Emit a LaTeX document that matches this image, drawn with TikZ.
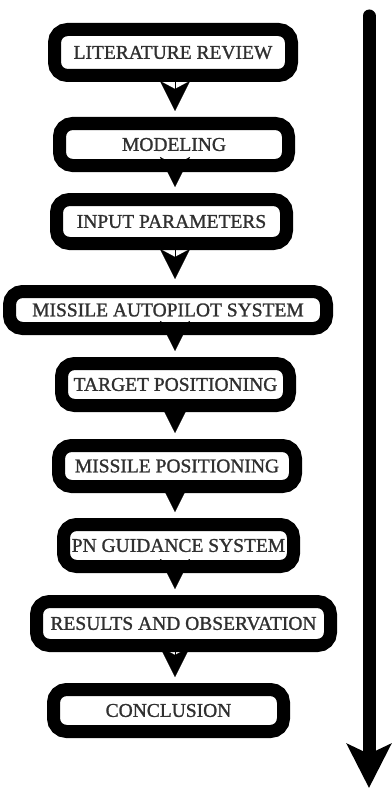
\documentclass[tikz,border=0pt]{standalone}
\usepackage{fontspec}
\setmainfont{Liberation Serif}
\newfontfamily\boxfont{Liberation Serif}[FakeBold=1.2]
\usetikzlibrary{arrows.meta}
\definecolor{txtgray}{HTML}{303030}
\tikzset{
  stepbox/.style={draw, line width=13pt, rounded corners=13pt, fill=white,
    text=txtgray, inner sep=0pt, font=\boxfont\fontsize{19.5}{22}\selectfont},
  flow/.style={line width=0.1pt, -{Stealth[length=30pt,width=30pt,inset=8pt]}, shorten >=6pt},
}
\begin{document}
\begin{tikzpicture}[x=1pt,y=-1pt]
  \useasboundingbox (0,0) rectangle (391,789);
  % Kaesten
  \node[stepbox, minimum width=237pt, minimum height=46pt] (lit) at (173,52.5) {LITERATURE REVIEW};
  \node[stepbox, minimum width=229pt, minimum height=42pt] (mod) at (174,144.5) {MODELING};
  \node[stepbox, minimum width=230pt, minimum height=44pt] (inp) at (171.5,221.5) {INPUT PARAMETERS};
  \node[stepbox, minimum width=317pt, minimum height=37pt] (auto) at (168,310) {MISSILE AUTOPILOT SYSTEM};
  \node[stepbox, minimum width=228pt, minimum height=42pt] (tgt) at (175.5,384.5) {TARGET POSITIONING};
  \node[stepbox, minimum width=237pt, minimum height=41pt] (mpos) at (177,466) {MISSILE POSITIONING};
  \node[stepbox, minimum width=230pt, minimum height=42pt] (pn) at (178.5,545.5) {PN GUIDANCE SYSTEM};
  \node[stepbox, minimum width=294pt, minimum height=44pt] (res) at (183.5,623.5) {RESULTS AND OBSERVATION};
  \node[stepbox, minimum width=230pt, minimum height=42pt] (conc) at (168.5,710.5) {CONCLUSION};
  % Pfeile
  \coordinate (spine) at (175,0);
  \draw[flow] (lit.south -| spine) -- (mod.north -| spine);
  \draw[flow] (mod.south -| spine) -- (inp.north -| spine);
  \draw[flow] (inp.south -| spine) -- (auto.north -| spine);
  \draw[flow] (auto.south -| spine) -- (tgt.north -| spine);
  \draw[flow] (tgt.south -| spine) -- (mpos.north -| spine);
  \draw[flow] (mpos.south -| spine) -- (pn.north -| spine);
  \draw[flow] (pn.south -| spine) -- (res.north -| spine);
  \draw[flow] (res.south -| spine) -- (conc.north -| spine);
  % Zeitachse
  \coordinate (top) at (369,16);
  \coordinate (bot) at (369,788);
  \draw[line width=13pt, line cap=round, -{Stealth[length=44pt,width=44pt,inset=10pt]}] (top) -- (bot);
\end{tikzpicture}
\end{document}
